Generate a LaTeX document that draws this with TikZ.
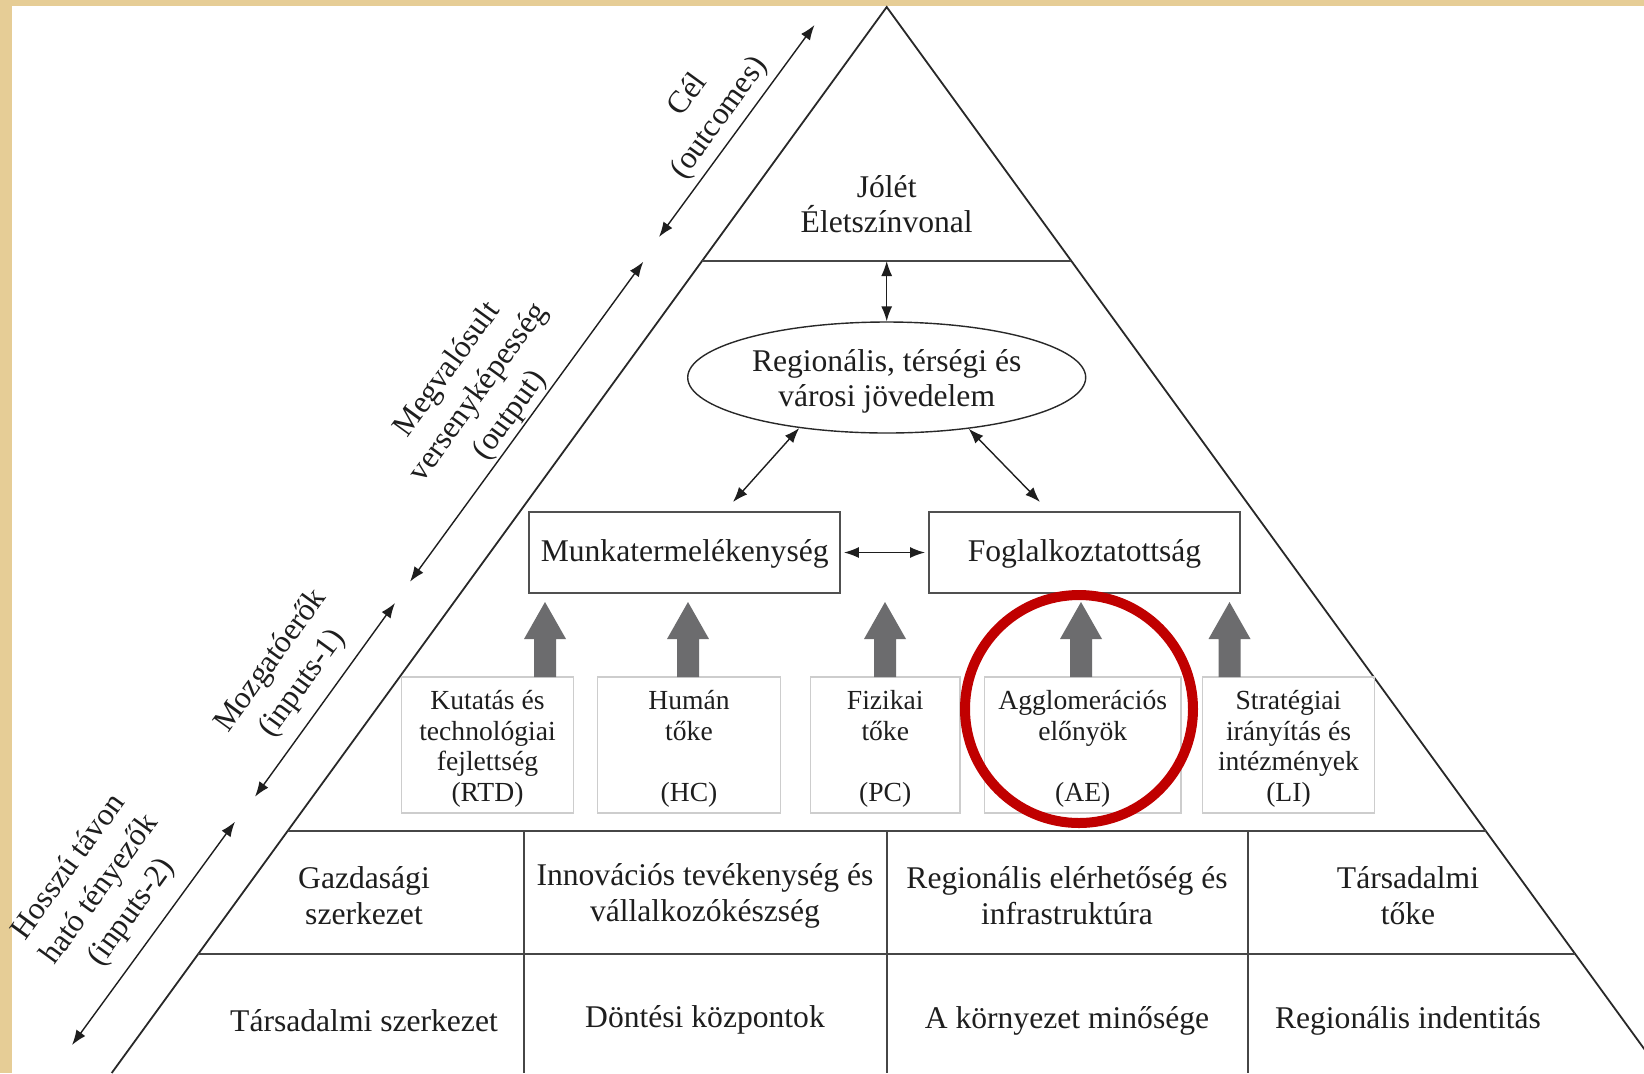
\documentclass[tikz,border=0pt]{standalone}
\usepackage{fontspec}
\setmainfont{Liberation Serif}
\usetikzlibrary{arrows.meta,shapes.geometric,calc}
\definecolor{parch}{RGB}{230,205,150}
\definecolor{ink}{RGB}{30,30,30}
\definecolor{linec}{RGB}{40,40,40}
\definecolor{bandc}{RGB}{70,70,70}
\definecolor{boxgray}{RGB}{205,205,205}
\definecolor{boxdark}{RGB}{80,80,80}
\definecolor{arrgray}{RGB}{108,108,110}
\definecolor{redc}{RGB}{192,0,0}
\newcommand\myrise[1]{\rule{0pt}{#1}}
\begin{document}
\begin{tikzpicture}[x=0.5pt,y=-0.5pt,
 txt/.style={font=\fontsize{15.8pt}{17.5pt}\selectfont,text=ink,align=center,inner sep=0pt},
 bandtxt/.style={font=\fontsize{15.8pt}{18pt}\selectfont,text=ink,align=center,inner sep=0pt},
 smalltxt/.style={font=\fontsize{13.8pt}{15.4pt}\selectfont,text=ink,align=center,inner sep=0pt},
 sidelbl/.style={font=\fontsize{15.8pt}{19.3pt}\selectfont,text=ink,align=center,inner sep=0pt,rotate=54},
 dbl/.style={{Latex[length=7.5pt,width=5.5pt]}-{Latex[length=7.5pt,width=5.5pt]},line width=0.7pt,draw=ink},
 bigbox/.style={txt,draw=boxdark,line width=1pt,minimum height=40.5pt,text height=12.7pt,text depth=3.5pt},
 smallbox/.style={smalltxt,draw=boxgray,line width=0.8pt,minimum height=68pt},
 tri/.style={draw=linec,line width=0.9pt},
 band/.style={draw=bandc,line width=1.1pt},
 uparr/.pic={\fill[arrgray] (-11,0) -- (-11,-38) -- (-21,-38) -- (0,-75) -- (21,-38) -- (11,-38) -- (11,0) -- cycle;}
]
\path[use as bounding box] (0,0) rectangle (1644,1073);
\clip (0,0) rectangle (1644,1073);
\fill[white] (0,0) rectangle (1644,1073);
\fill[parch] (0,0) rectangle (1644,6);
\fill[parch] (0,0) rectangle (12,1073);

% pyramid outline
\coordinate (apex) at (886.7,7);
\coordinate (bl) at (111.7,1073);
\coordinate (br) at (1661.7,1073);
\draw[tri] (bl) -- (apex) -- (br);

% bands
\coordinate (t1l) at (702,261);
\coordinate (t1m) at (886.7,261);
\coordinate (t1r) at (1071.4,261);
\draw[band] (t1l) -- (t1r);
\coordinate (t2l) at (287.7,831);
\coordinate (t2r) at (1485.7,831);
\draw[band] (t2l) -- (t2r);
\coordinate (t3l) at (198.2,954);
\coordinate (t3r) at (1575.2,954);
\draw[band] (t3l) -- (t3r);
\foreach \xx in {524,886.7,1248}{\draw[band] (\xx,831) -- (\xx,1073);}

% top
\node[txt] (jolet) at (886.7,204) {Jólét\\Életszínvonal};
\node[txt,draw=linec,line width=0.7pt,ellipse,minimum width=199pt,minimum height=55.5pt] (ell) at (886.7,377.5) {\myrise{15.1pt}Regionális, térségi és\\városi jövedelem};

% middle boxes
\node[bigbox,minimum width=155.25pt] (munka) at (684.7,552.5) {Munkatermelékenység};
\node[bigbox,minimum width=155.5pt] (foglal) at (1084.5,552.5) {Foglalkoztatottság};

% small boxes
\node[smallbox,minimum width=86pt] (rtd) at (487.5,745) {\myrise{13.5pt}Kutatás és\\technológiai\\fejlettség\\(RTD)};
\node[smallbox,minimum width=91.5pt] (hc) at (689,745) {\myrise{13.5pt}Humán\\tőke\\\mbox{}\\(HC)};
\node[smallbox,minimum width=74.75pt] (pc) at (885.25,745) {\myrise{13.5pt}Fizikai\\tőke\\\mbox{}\\(PC)};
\node[smallbox,minimum width=98.25pt] (ae) at (1082.75,745) {\myrise{13.5pt}Agglomerációs\\előnyök\\\mbox{}\\(AE)};
\node[smallbox,minimum width=86pt] (li) at (1288.5,745) {\myrise{13.5pt}Stratégiai\\irányítás és\\intézmények\\(LI)};

% block arrows
\pic at (545,677) {uparr};
\pic at (688,677) {uparr};
\pic at (885,677) {uparr};
\pic at (1081,677) {uparr};
\pic at (1229.5,677) {uparr};

% thin arrows
\draw[dbl] (t1m) -- (ell.north);
\coordinate (lend) at (733,502);
\coordinate (rend) at (1040,502);
\draw[dbl] (ell.210) -- (lend);
\draw[dbl] (ell.-32) -- (rend);
\draw[dbl,shorten <=1.5pt,shorten >=1.5pt] (munka.east) -- (foglal.west);

% side arrows
\coordinate (c1a) at (814.5,25);  \coordinate (c1b) at (659,237);
\coordinate (c2a) at (643.3,261.7); \coordinate (c2b) at (410,581.7);
\coordinate (c3a) at (395,603);   \coordinate (c3b) at (255,796.7);
\coordinate (c4a) at (235,821.7); \coordinate (c4b) at (72,1045);
\draw[dbl] (c1a) -- (c1b);
\draw[dbl] (c2a) -- (c2b);
\draw[dbl] (c3a) -- (c3b);
\draw[dbl] (c4a) -- (c4b);

\node[sidelbl] (lcel) at (704,107) {Cél\\(outcomes)};
\node[sidelbl] (lmeg) at (479,393) {Megvalósult\\versenyképesség\\(output)};
\node[sidelbl] (lmoz) at (287,672.5) {Mozgatóerők\\(inputs-1)};
\node[sidelbl] (lhos) at (100.5,890) {Hosszú távon\\ható tényezők\\(inputs-2)};

% bottom bands
\node[bandtxt] (b11) at (364,895.5) {Gazdasági\\szerkezet};
\node[bandtxt] (b12) at (705,895.5) {Innovációs tevékenység és\\vállalkozókészség};
\node[bandtxt] (b13) at (1067,895.5) {Regionális elérhetőség és\\infrastruktúra};
\node[bandtxt] (b14) at (1408,895.5) {Társadalmi\\tőke};
\node[bandtxt] (b21) at (364,1021) {Társadalmi szerkezet};
\node[bandtxt] (b22) at (705,1020) {Döntési központok};
\node[bandtxt] (b23) at (1067,1021) {A környezet minősége};
\node[bandtxt] (b24) at (1408,1021) {Regionális indentitás};

% highlight
\node[circle,draw=redc,line width=5pt,minimum size=114pt,inner sep=0pt] (hl) at (1079,709) {};
\end{tikzpicture}
\end{document}
